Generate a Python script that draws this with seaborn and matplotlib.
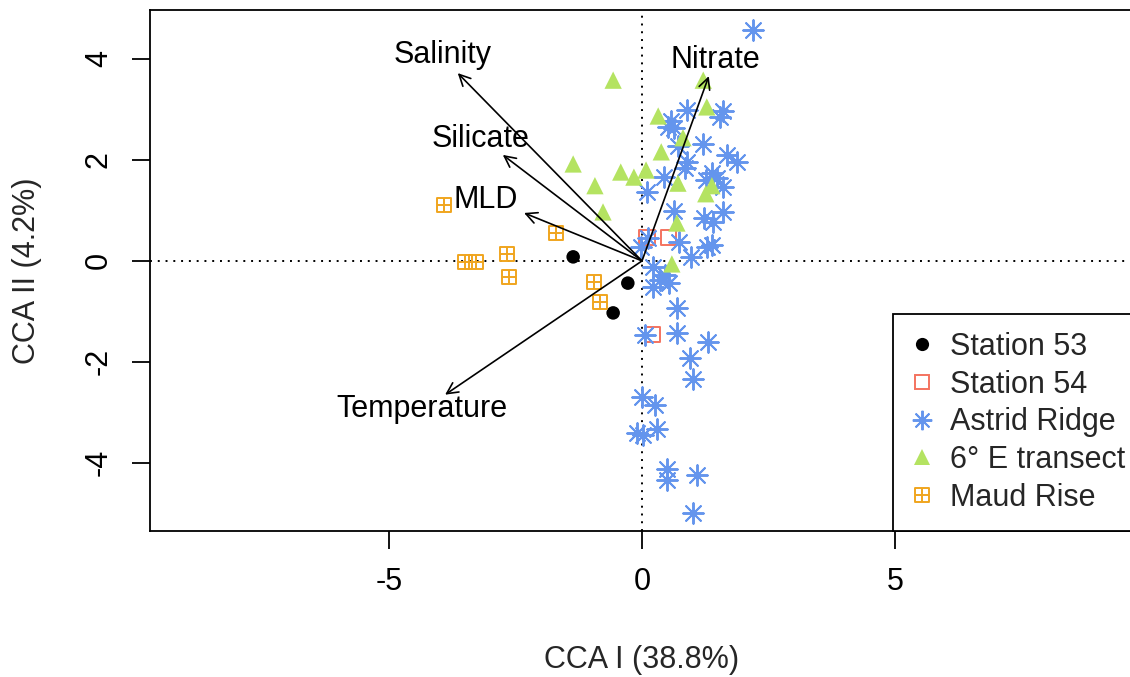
import numpy as np
import pandas as pd
import matplotlib
matplotlib.use("Agg")
import matplotlib.pyplot as plt
import seaborn as sns
from matplotlib.path import Path
from matplotlib.lines import Line2D

# ---------------- data ----------------
st53_x = [-1.36, -0.28, -0.57]
st53_y = [0.08, -0.44, -1.03]

st54_x = [0.10, 0.53, 0.20]
st54_y = [0.46, 0.46, -1.45]

astrid_x = [2.19, 0.89, 1.60, 1.54, 0.57, 0.51, 0.63, 1.21, 0.71, 1.68, 1.88, 0.89,
            0.85, 1.38, 1.48, 0.43, 1.26, 1.60, 0.10, 0.63, 1.60, 1.23, 1.40, 0.12,
            -0.02, 0.73, 0.97, 1.28, 1.38, 0.22, 0.45, 0.53, 0.22, 0.36, 0.69, 0.06,
            0.69, 1.30, 0.95, 1.01, 0.00, 0.26, -0.10, 0.02, 0.30, 0.49, 0.49, 1.09, 1.01]
astrid_y = [4.57, 2.99, 2.97, 2.85, 2.77, 2.65, 2.63, 2.32, 2.28, 2.10, 1.96, 1.96,
            1.84, 1.74, 1.64, 1.66, 1.60, 1.47, 1.37, 0.99, 0.97, 0.85, 0.77, 0.46,
            0.28, 0.38, 0.08, 0.28, 0.32, -0.12, -0.28, -0.44, -0.51, -0.38, -0.93, -1.46,
            -1.43, -1.60, -1.92, -2.34, -2.69, -2.85, -3.41, -3.45, -3.33, -4.12, -4.34, -4.24, -4.99]

transect_x = [-0.57, 1.21, 1.28, 0.32, 0.81, 0.38, -1.36, -0.42, -0.16, 0.08, 0.71, 1.38,
              1.26, -0.93, -0.77, 0.69, 0.59]
transect_y = [3.58, 3.58, 3.05, 2.87, 2.44, 2.16, 1.92, 1.76, 1.66, 1.80, 1.54, 1.49,
              1.33, 1.49, 0.97, 0.75, -0.06]

maud_x = [-3.91, -1.70, -3.50, -3.28, -2.67, -2.63, -0.95, -0.83]
maud_y = [1.11, 0.55, -0.02, -0.02, 0.14, -0.32, -0.42, -0.81]

group_names = ["Station 53", "Station 54", "Astrid Ridge", "6° E transect", "Maud Rise"]

env_names = ["Salinity", "Silicate", "MLD", "Temperature", "Nitrate"]
env_x = [-3.64, -2.75, -2.33, -3.89, 1.32]
env_y = [3.72, 2.10, 0.95, -2.65, 3.66]
env_label_x = [-3.93, -3.18, -3.08, -4.35, 1.44]
env_label_y = [4.08, 2.42, 1.21, -2.93, 3.98]

xlabel = "CCA I (38.8%)"
ylabel = "CCA II (4.2%)"
xticks = [-5, 0, 5]
yticks = [-4, -2, 0, 2, 4]

# ---------------- styling ----------------
sns.set_style("white")
plt.rcParams["font.family"] = ["Liberation Sans", "DejaVu Sans"]
FS = 22

frames = []
for name, xs, ys in [("Station 53", st53_x, st53_y), ("Station 54", st54_x, st54_y),
                     ("Astrid Ridge", astrid_x, astrid_y),
                     ("6° E transect", transect_x, transect_y),
                     ("Maud Rise", maud_x, maud_y)]:
    frames.append(pd.DataFrame({"x": xs, "y": ys, "group": name}))
df = pd.concat(frames, ignore_index=True)

boxplus = Path([(-1, -1), (1, -1), (1, 1), (-1, 1), (-1, -1), (0, -1), (0, 1), (-1, 0), (1, 0)],
               [Path.MOVETO, Path.LINETO, Path.LINETO, Path.LINETO, Path.CLOSEPOLY,
                Path.MOVETO, Path.LINETO, Path.MOVETO, Path.LINETO])
asterisk = (8, 2, 0)

colors = {"Station 53": "black", "Station 54": "#F4735F", "Astrid Ridge": "#6495ED",
          "6° E transect": "#B4E361", "Maud Rise": "#F0A51E"}

fig = plt.figure(figsize=(11.3, 6.77), dpi=100)
W, H = 1130, 677
left, right, top, bottom = 150, 1134, 10, 531
ax = fig.add_axes([left / W, (H - bottom) / H, (right - left) / W, (bottom - top) / H])

# reference lines
ax.axhline(0, color="black", lw=1.4, ls=(0, (1, 3)), zorder=1)
ax.axvline(0, color="black", lw=1.4, ls=(0, (1, 3)), zorder=1)

# points
g = "Station 53"
sns.scatterplot(data=df[df.group == g], x="x", y="y", ax=ax, marker="o", s=95,
                color=colors[g], edgecolor="none", linewidth=0, zorder=3, legend=False)
g = "Station 54"
sns.scatterplot(data=df[df.group == g], x="x", y="y", ax=ax, marker="s", s=120,
                facecolor="none", edgecolor=colors[g], linewidth=1.4, zorder=3, legend=False)
g = "Astrid Ridge"
sns.scatterplot(data=df[df.group == g], x="x", y="y", ax=ax, marker=asterisk, s=220,
                color=colors[g], linewidth=1.4, zorder=3, legend=False)
g = "6° E transect"
sns.scatterplot(data=df[df.group == g], x="x", y="y", ax=ax, marker="^", s=155,
                color=colors[g], edgecolor="none", linewidth=0, zorder=3, legend=False)
g = "Maud Rise"
sns.scatterplot(data=df[df.group == g], x="x", y="y", ax=ax, marker=boxplus, s=110,
                facecolor="none", edgecolor=colors[g], linewidth=1.4, zorder=3, legend=False)

# environmental arrows
for name, ex, ey, lx, ly in zip(env_names, env_x, env_y, env_label_x, env_label_y):
    ax.annotate("", xy=(ex, ey), xytext=(0, 0),
                arrowprops=dict(arrowstyle="->,head_length=0.4,head_width=0.2",
                                color="black", lw=1.2, shrinkA=0, shrinkB=0,
                                mutation_scale=20), zorder=4)
    ax.text(lx, ly, name, ha="center", va="center", fontsize=FS, color="black", zorder=5)

ax.set_xlim(-9.72, 9.72)
ax.set_ylim(-5.35, 4.97)
ax.set_xticks(xticks)
ax.set_yticks(yticks)
ax.set_xticklabels([str(t) for t in xticks])
ax.set_yticklabels([str(t) for t in yticks])
ax.tick_params(axis="both", which="both", direction="out", length=13, width=1.3,
               colors="black", labelsize=FS, pad=13, bottom=True, left=True)
ax.tick_params(axis="y", labelrotation=90)
for lab in ax.get_yticklabels():
    lab.set_va("center")
for sp in ax.spines.values():
    sp.set_color("black")
    sp.set_linewidth(1.3)

ax.set_xlabel(xlabel, fontsize=FS)
ax.set_ylabel(ylabel, fontsize=FS)
ax.xaxis.label.set_va("center")
ax.xaxis.set_label_coords(0.5, (bottom - 660) / (bottom - top))
ax.yaxis.label.set_va("center")
ax.yaxis.set_label_coords((27 - left) / (right - left), 0.5)

# legend
handles = [
    Line2D([], [], ls="none", marker="o", color=colors["Station 53"], markersize=9.5,
           markeredgewidth=0),
    Line2D([], [], ls="none", marker="s", markerfacecolor="none",
           markeredgecolor=colors["Station 54"], markersize=10, markeredgewidth=1.4),
    Line2D([], [], ls="none", marker=asterisk, color=colors["Astrid Ridge"], markersize=14,
           markeredgewidth=1.4),
    Line2D([], [], ls="none", marker="^", color=colors["6° E transect"], markersize=12,
           markeredgewidth=0),
    Line2D([], [], ls="none", marker=boxplus, markerfacecolor="none",
           markeredgecolor=colors["Maud Rise"], markersize=10, markeredgewidth=1.4),
]
leg = ax.legend(handles, group_names, loc="lower left",
                bbox_to_anchor=((893 - left) / (right - left), 0.0),
                fontsize=FS, frameon=True, fancybox=False, borderaxespad=0,
                borderpad=0.6, labelspacing=0.25, handlelength=0.69,
                handletextpad=0.57, edgecolor="black", framealpha=1)
leg.get_frame().set_linewidth(1.3)
leg.set_zorder(6)

fig.savefig("out.png", dpi=100)
